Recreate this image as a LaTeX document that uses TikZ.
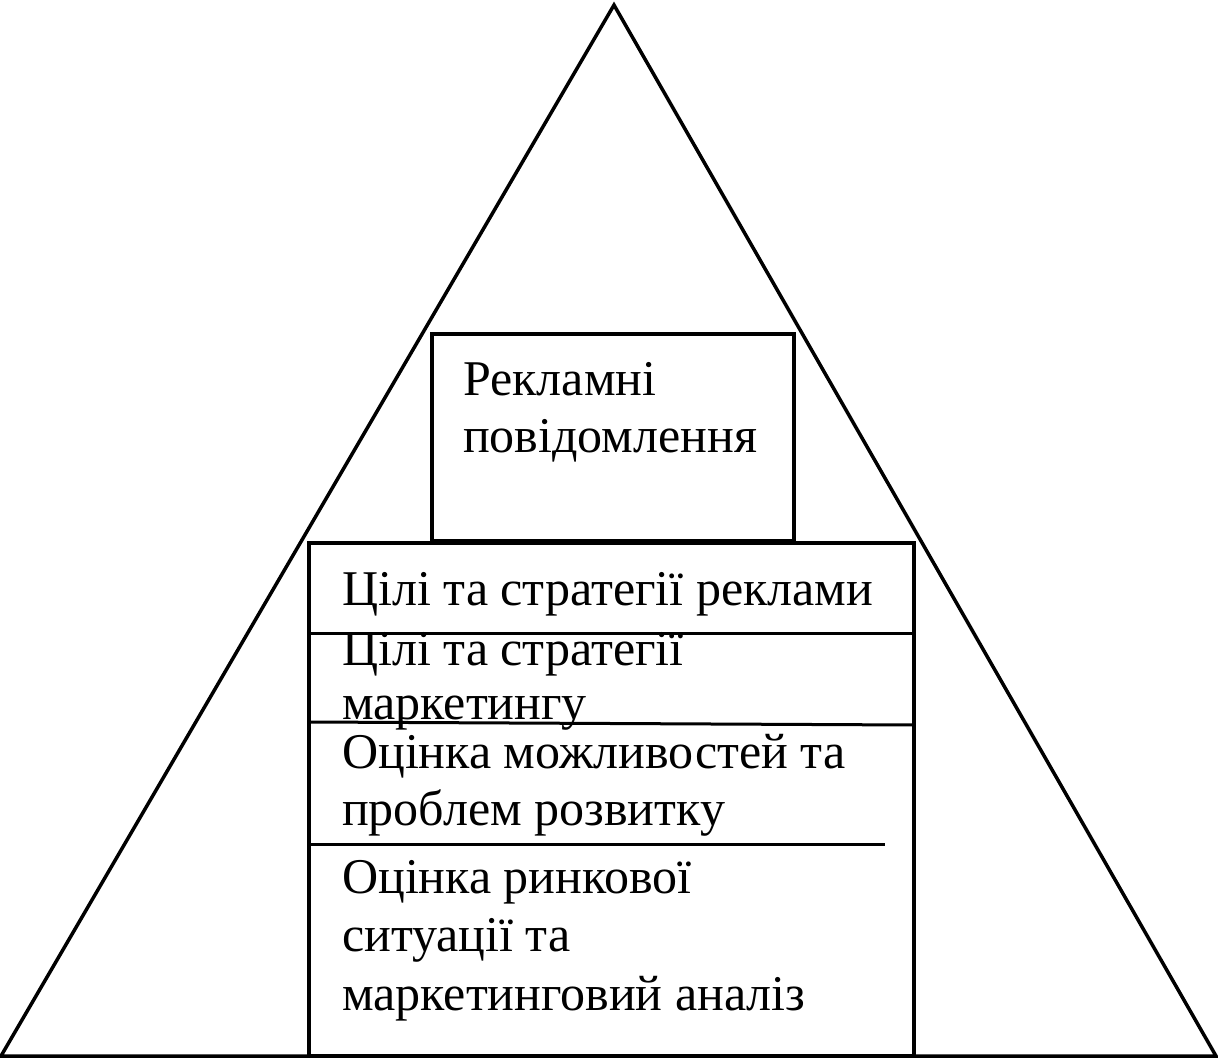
\documentclass[tikz,border=0pt]{standalone}
\usepackage{fontspec}
\setmainfont{Liberation Serif}
\usepackage{tikz}

\tikzset{
  frameline/.style={line width=3.5pt,line join=miter},
  levelline/.style={line width=3pt},
  leveltext/.style={anchor=base west,inner sep=0pt,align=left,
    font=\fontsize{50}{57}\selectfont}
}

\begin{document}
\begin{tikzpicture}[x=1pt,y=-1pt]
  \useasboundingbox (0,0) rectangle (1218,1062);
  % pyramid
  \coordinate (apex) at (614,5);
  \coordinate (baseL) at (1,1056);
  \coordinate (baseR) at (1216,1056);
  \draw[frameline] (baseL) -- (apex) -- (baseR) -- cycle;

  % top box
  \draw[frameline] (432,541) rectangle (794,334);
  \node[leveltext] (ads) at (463,452) {Рекламні\\повідомлення};

  % stacked levels
  \draw[frameline] (309,1056) rectangle (914,543);
  \draw[levelline] (309,633) -- (914,633);
  \draw[levelline] (309,722) -- (914,725);
  \draw[levelline] (309,844) -- (885,844);

  % base anchor sits on the last line
  \node[leveltext] (adgoal) at (342,605) {Цілі та стратегії реклами};
  \node[leveltext,font=\fontsize{50}{54}\selectfont] (mkgoal) at (342,719) {Цілі та стратегії\\маркетингу};
  \node[leveltext] (chances) at (342,825) {Оцінка можливостей та\\проблем розвитку};
  \node[leveltext,font=\fontsize{50}{58.5}\selectfont] (market) at (342,1010) {Оцінка ринкової\\ситуації та\\маркетинговий аналіз};
\end{tikzpicture}
\end{document}
